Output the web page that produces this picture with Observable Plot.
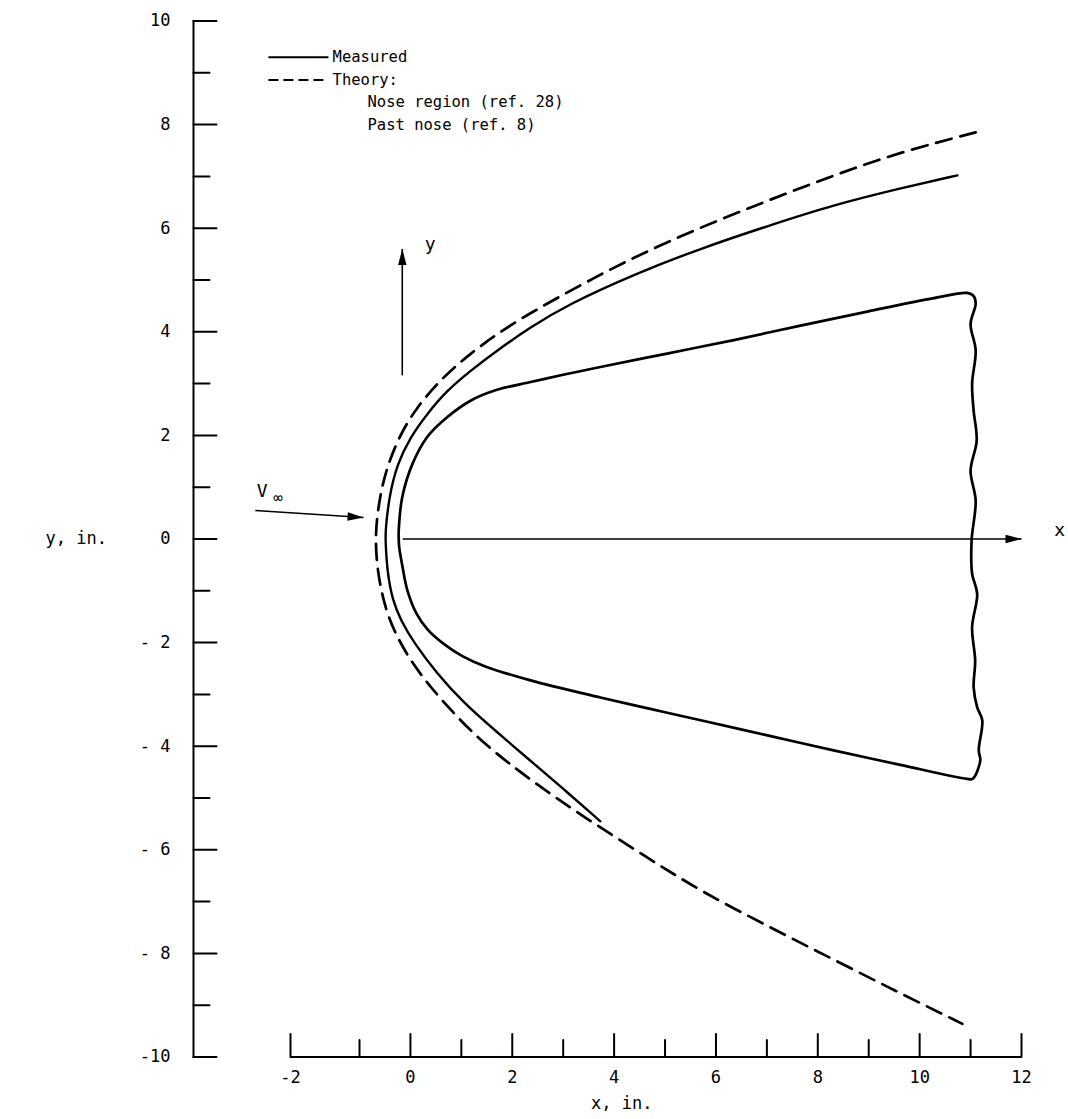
<!DOCTYPE html>
<html>
<head>
<meta charset="utf-8">
<script src="https://cdn.jsdelivr.net/npm/d3@7"></script>
<script src="https://cdn.jsdelivr.net/npm/@observablehq/plot@0.6"></script>
<style>
  html, body { margin: 0; padding: 0; background: #fff; }
  #chart svg { display: block; }
</style>
</head>
<body>
<div id="chart"></div>
<script>
// ---- Theory shock (dashed), upper end -> nose -> lower end ----
const theoryX = [11.10, 9.62, 8.31, 7.01, 5.70, 4.39, 3.41, 2.36, 1.70, 1.18, 0.79, 0.46, 0.13, -0.16, -0.39, -0.55, -0.65, -0.69,
                 -0.65, -0.52, -0.33, 0.00, 0.39, 0.92, 1.44, 2.36, 3.41, 4.65, 5.70, 7.01, 8.31, 9.62, 10.84];
const theoryY = [7.85, 7.47, 7.02, 6.53, 6.02, 5.44, 4.94, 4.37, 3.96, 3.58, 3.25, 2.93, 2.54, 2.09, 1.58, 1.07, 0.49, 0.00,
                 -0.61, -1.25, -1.77, -2.35, -2.86, -3.44, -3.95, -4.66, -5.37, -6.15, -6.80, -7.47, -8.12, -8.77, -9.36];

// ---- Measured shock (solid) ----
const shockX = [10.74, 9.62, 8.31, 7.01, 5.70, 4.39, 3.08, 2.36, 1.70, 1.18, 0.72, 0.33, 0.00, -0.26, -0.42, -0.49, -0.49,
                -0.46, -0.35, -0.19, 0.08, 0.51, 1.02, 1.69, 2.32, 3.00, 3.73];
const shockY = [7.02, 6.77, 6.45, 6.04, 5.61, 5.11, 4.52, 4.09, 3.64, 3.25, 2.87, 2.42, 1.97, 1.45, 0.81, 0.16, 0.00,
                -0.61, -1.19, -1.57, -2.02, -2.58, -3.14, -3.72, -4.25, -4.82, -5.45];

// ---- Body outline (solid, closed) ----
const bodyX = [-0.23, -0.23, -0.16, 0.04, 0.33, 0.72, 1.18, 1.70, 2.36, 3.00, 3.73, 5.04, 6.35, 7.66, 8.97, 10.28, 10.93, 11.06,
               11.10, 11.00, 11.10, 11.03, 11.06, 11.12, 11.00, 11.10, 11.02, 11.03, 11.13, 11.03, 11.09, 11.06, 11.13, 11.23, 11.16, 11.19, 11.04,
               10.93, 9.62, 8.31, 7.01, 5.70, 4.71, 3.73, 2.36, 1.47, 1.02, 0.66, 0.34, 0.12, -0.06, -0.16, -0.22, -0.23];
const bodyY = [0.00, 0.16, 0.81, 1.45, 1.97, 2.35, 2.67, 2.88, 3.03, 3.17, 3.32, 3.58, 3.84, 4.12, 4.39, 4.65, 4.75, 4.69,
               4.54, 4.15, 3.64, 3.00, 2.48, 1.90, 1.32, 0.74, -0.03, -0.67, -1.06, -1.70, -2.35, -2.86, -3.25, -3.50, -4.08, -4.28, -4.63,
               -4.63, -4.36, -4.08, -3.79, -3.50, -3.28, -3.06, -2.73, -2.46, -2.26, -2.03, -1.75, -1.44, -0.99, -0.51, -0.16, 0.00];

// ---- Axes ----
const xTicksMajor = [-2, 0, 2, 4, 6, 8, 10, 12];
const xTickLabels = ["-2", "0", "2", "4", "6", "8", "10", "12"];
const xTicksMinor = [-1, 1, 3, 5, 7, 9, 11];
const yTicksMajor = [10, 8, 6, 4, 2, 0, -2, -4, -6, -8, -10];
const yTickLabels = ["10", "8", "6", "4", "2", "0", "- 2", "- 4", "- 6", "- 8", "-10"];
const yTicksMinor = [9, 7, 5, 3, 1, -1, -3, -5, -7, -9];
const xAxisTitle = "x, in.";
const yAxisTitle = "y, in.";

// ---- Legend ----
const legendLabels = ["Measured", "Theory:", "Nose region (ref. 28)", "Past nose (ref. 8)"];
const legendRowsY = [9.30, 8.86, 8.43, 8.00];

// ---- Annotation arrows (data units) ----
const arrowsX1 = [-0.15, -0.16, -2.51];
const arrowsY1 = [0.00, 3.16, 0.55];
const arrowsX2 = [12.0, -0.16, -0.92];
const arrowsY2 = [0.00, 5.60, 0.415];
const arrowLabels = ["x", "y", "V"];
const arrowLabelX = [12.75, 0.39, -2.41];
const arrowLabelY = [0.16, 5.70, 0.93];

const pts = (xs, ys) => xs.map((x, i) => ({x, y: ys[i]}));
const theory = pts(theoryX, theoryY);
const shock = pts(shockX, shockY);
const body = pts(bodyX, bodyY);
const arrows = arrowsX1.map((x1, i) => ({x1, y1: arrowsY1[i], x2: arrowsX2[i], y2: arrowsY2[i]}));

const mono = "'DejaVu Sans Mono', monospace";
const headShape = {
  draw(ctx) { ctx.moveTo(0, 0); ctx.lineTo(4.2, 16); ctx.lineTo(-4.2, 16); ctx.closePath(); }
};
const tickShape = {
  draw(ctx, l) { ctx.moveTo(0, 0); ctx.lineTo(0, -l); }
};

const xScale = {type: "linear", domain: [-2, -1, 12], range: [290, 359, 1021]};
const yScale = {type: "linear", domain: [-10, 10], range: [1056.5, 20.5]};

// head rotations from the same scales
const sx = d3.scaleLinear(xScale.domain, xScale.range);
const sy = d3.scaleLinear(yScale.domain, yScale.range);
arrows.forEach(a => {
  const dx = sx(a.x2) - sx(a.x1), dy = sy(a.y2) - sy(a.y1);
  a.rot = Math.atan2(dx, -dy) * 180 / Math.PI;
});

const legendSolid = [{x1: -2.32, x2: -1.45, y: legendRowsY[0]}];
const legendDashed = [{x1: -2.32, x2: -1.45, y: legendRowsY[1]}];
const legendText = legendLabels.map((t, i) => ({t, y: legendRowsY[i], x: i < 2 ? -1.39 : -0.843}));

const plot = Plot.plot({
  width: 1068,
  height: 1119,
  marginLeft: 193,
  marginRight: 20,
  marginTop: 20.5,
  marginBottom: 62.5,
  x: xScale,
  y: yScale,
  style: {fontFamily: mono, fontSize: "16px", color: "#000", background: "#fff"},
  marks: [
    // y axis line and ticks
    Plot.frame({anchor: "left", stroke: "#000", strokeWidth: 2}),
    Plot.vector(yTicksMajor, {y: d => d, frameAnchor: "left", length: 23, rotate: 90, anchor: "start", shape: tickShape, stroke: "#000", strokeWidth: 2}),
    Plot.vector(yTicksMinor, {y: d => d, frameAnchor: "left", length: 16, rotate: 90, anchor: "start", shape: tickShape, stroke: "#000", strokeWidth: 2}),
    Plot.axisY(yTicksMajor, {anchor: "left", tickSize: 0, tickPadding: 23, label: null, fontSize: 17,
      tickFormat: d => yTickLabels[yTicksMajor.indexOf(d)]}),
    // x axis line and ticks
    Plot.ruleY([-10], {x1: xTicksMajor[0], x2: xTicksMajor[xTicksMajor.length - 1], stroke: "#000", strokeWidth: 2}),
    Plot.vector(xTicksMajor, {x: d => d, frameAnchor: "bottom", length: 23, rotate: 0, anchor: "start", shape: tickShape, stroke: "#000", strokeWidth: 2}),
    Plot.vector(xTicksMinor, {x: d => d, frameAnchor: "bottom", length: 17, rotate: 0, anchor: "start", shape: tickShape, stroke: "#000", strokeWidth: 2}),
    Plot.axisX(xTicksMajor, {anchor: "bottom", tickSize: 0, tickPadding: 14, label: null, fontSize: 17,
      tickFormat: d => xTickLabels[xTicksMajor.indexOf(d)]}),
    Plot.text([xAxisTitle], {x: 4.15, y: -10, dy: 47, text: d => d, fontSize: 17}),
    Plot.text([yAxisTitle], {x: -5.55, y: 0, text: d => d, textAnchor: "start", fontSize: 17}),

    // curves
    Plot.line(theory, {x: "x", y: "y", curve: "basis", stroke: "#000", strokeWidth: 2.7, strokeDasharray: "16,9"}),
    Plot.line(shock, {x: "x", y: "y", curve: "basis", stroke: "#000", strokeWidth: 2.4}),
    Plot.line(body, {x: "x", y: "y", curve: "catmull-rom", stroke: "#000", strokeWidth: 2.7}),

    // annotation arrows
    Plot.link(arrows, {x1: "x1", y1: "y1", x2: "x2", y2: "y2", stroke: "#000", strokeWidth: 1.6}),
    Plot.dot(arrows, {x: "x2", y: "y2", symbol: headShape, rotate: "rot", fill: "#000", stroke: null, r: 5}),
    Plot.text(arrowLabels, {x: (d, i) => arrowLabelX[i], y: (d, i) => arrowLabelY[i], text: d => d, fontSize: 18}),
    Plot.text(["∞"], {x: -2.18, y: 0.79, text: d => d, fontSize: 16}),

    // legend
    Plot.link(legendSolid, {x1: "x1", x2: "x2", y1: "y", y2: "y", stroke: "#000", strokeWidth: 2}),
    Plot.link(legendDashed, {x1: "x1", x2: "x2", y1: "y", y2: "y", stroke: "#000", strokeWidth: 2, strokeDasharray: "10,5"}),
    Plot.text(legendText, {x: "x", y: "y", text: "t", textAnchor: "start", fontSize: 15.5})
  ]
});

document.getElementById("chart").appendChild(plot);
</script>
</body>
</html>
